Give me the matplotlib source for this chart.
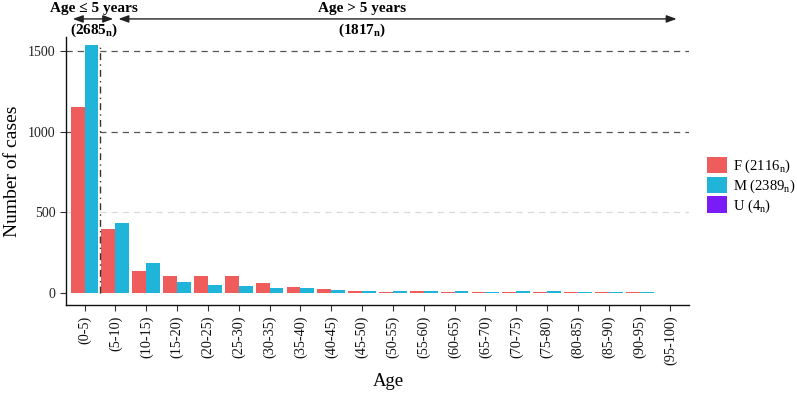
import matplotlib
matplotlib.use("Agg")
import matplotlib.pyplot as plt
from matplotlib.patches import Patch
import numpy as np

categories = ["(0-5)", "(5-10)", "(10-15)", "(15-20)", "(20-25)", "(25-30)", "(30-35)",
              "(35-40)", "(40-45)", "(45-50)", "(50-55)", "(55-60)", "(60-65)", "(65-70)",
              "(70-75)", "(75-80)", "(80-85)", "(85-90)", "(90-95)", "(95-100)"]
female = [1155, 395, 134, 103, 105, 103, 64, 37, 23, 13, 9, 10, 9, 7, 5, 7, 7, 6, 5, 0]
male = [1537, 432, 186, 68, 52, 43, 29, 29, 19, 13, 12, 14, 12, 8, 12, 11, 6, 6, 5, 0]
legend_labels = ["F (2116$_\\mathrm{n}$)", "M (2389$_\\mathrm{n}$)", "U (4$_\\mathrm{n}$)"]
colors = ["#EE5C5C", "#1FB4D8", "#7A1CF5"]
yticks = [0, 500, 1000, 1500]

plt.rcParams['font.family'] = ['Liberation Serif', 'DejaVu Serif']
plt.rcParams['mathtext.fontset'] = 'custom'
plt.rcParams['mathtext.rm'] = 'Liberation Serif'
plt.rcParams['mathtext.it'] = 'Liberation Serif:italic'
plt.rcParams['mathtext.bf'] = 'Liberation Serif:bold'

fig = plt.figure(figsize=(7.97, 3.94), dpi=100)
ax = fig.add_axes([66/797, 1-305/394, (689-66)/797, (305-37)/394])

x = np.arange(len(categories))
w = 0.45
ax.bar(x - w/2, female, width=w, color=colors[0], linewidth=0, zorder=3)
ax.bar(x + w/2, male, width=w, color=colors[1], linewidth=0, zorder=3)

ax.set_xlim(-0.6, 19.6)
ax.set_ylim(-74.4, 1587)

ax.axhline(500, color="#d9d9d9", lw=0.9, ls=(0, (5, 4)), zorder=1)
for yv in (1000, 1500):
    ax.axhline(yv, color="#555555", lw=0.9, ls=(0, (5, 4)), zorder=1)
ax.plot([0.5, 0.5], [0, 1530], color="#333333", lw=1.0, ls=(0, (5, 3, 1, 3)), zorder=4)

ax.set_xticks(x)
ax.set_xticklabels(categories, rotation=90, fontsize=10.3, color="#111111")
ax.set_yticks(yticks)
ax.set_yticklabels([str(v) for v in yticks], fontsize=10, color="#222222")
ax.tick_params(axis='both', direction='out', length=4, width=0.8, color="#333333")
for s in ("top", "right"):
    ax.spines[s].set_visible(False)
for s in ("left", "bottom"):
    ax.spines[s].set_linewidth(1.0)
    ax.spines[s].set_color("#111111")

ax.set_ylabel("Number of cases", fontsize=14, va="center")
ax.yaxis.set_label_coords(-(66 - 13) / 623, 0.5)
ax.set_xlabel("Age", fontsize=13.5, va="center")
ax.xaxis.set_label_coords((388 - 66) / 623, -(381 - 305) / 268)

# top annotations
arr = dict(arrowstyle="<|-|>,head_length=0.6,head_width=0.22", color="#222222", lw=1.0,
           shrinkA=0, shrinkB=0)
ax.annotate("", xy=(0.93, 1699), xytext=(-0.38, 1699), arrowprops=arr, annotation_clip=False)
ax.annotate("", xy=(19.2, 1699), xytext=(1.1, 1699), arrowprops=arr, annotation_clip=False)
ax.text(0.3, 1762, "Age ≤ 5 years", ha="center", va="center", fontsize=11, fontweight="bold", clip_on=False)
ax.text(0.3, 1630, "(2685$_\\mathbf{n}$)", ha="center", va="center", fontsize=11, fontweight="bold", clip_on=False)
ax.text(9.0, 1762, "Age > 5 years", ha="center", va="center", fontsize=11, fontweight="bold", clip_on=False)
ax.text(9.0, 1630, "(1817$_\\mathbf{n}$)", ha="center", va="center", fontsize=11, fontweight="bold", clip_on=False)

handles = [Patch(facecolor=c, edgecolor='none') for c in colors]
fig.legend(handles, legend_labels, loc="upper left", bbox_to_anchor=(704/797, 1-154/394),
           frameon=False, fontsize=10.5, handlelength=1.35, handleheight=1.35,
           handletextpad=0.45, labelspacing=0.1, borderaxespad=0, borderpad=0.2)

fig.savefig("out.png", dpi=100)
